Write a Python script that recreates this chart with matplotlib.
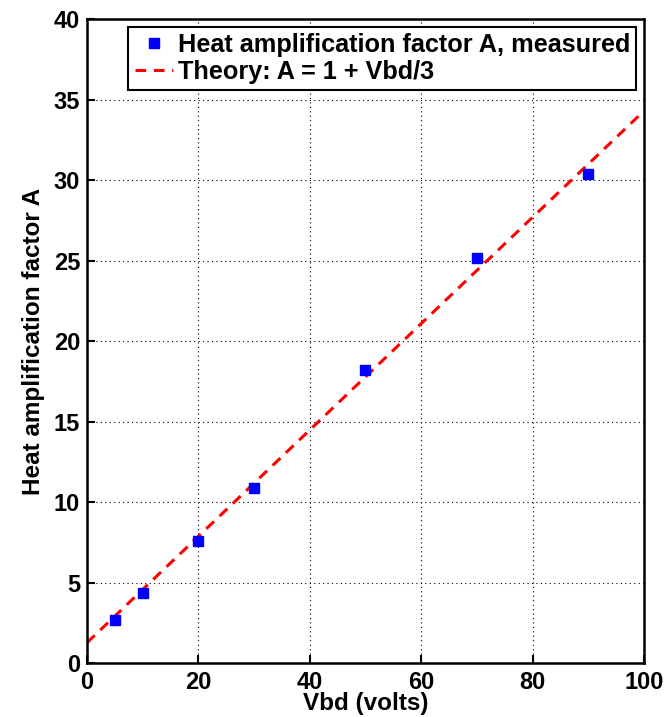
# heat amplification factor vs breakdown voltage

import matplotlib.pyplot as plt

# measured points
vbd = [5, 10, 20, 30, 50, 70, 90]
a_measured = [2.67, 4.35, 7.58, 10.89, 18.2, 25.15, 30.35]

# theory line endpoints (as drawn)
theory_v = [0, 100]
theory_a = [1.26, 34.3]

xticks = [0, 20, 40, 60, 80, 100]
yticks = [0, 5, 10, 15, 20, 25, 30, 35, 40]

plt.rcParams['font.family'] = ['Liberation Sans', 'DejaVu Sans']
plt.rcParams['font.weight'] = 'bold'

fig = plt.figure(figsize=(6.69, 7.17), dpi=100)
ax = fig.add_axes([0.130, 0.0753, 0.8326, 0.898])

ax.plot(vbd, a_measured, linestyle='none', marker='s', markersize=7.5,
        color='#0000ff', label='Heat amplification factor A, measured', zorder=3)
ax.plot(theory_v, theory_a, linestyle=(0, (3.5, 2.5)), color='#ff0000', linewidth=2.2,
        label='Theory: A = 1 + Vbd/3', zorder=2)

ax.set_xlim(0, 100)
ax.set_ylim(0, 40)
ax.set_xticks(xticks)
ax.set_yticks(yticks)
ax.tick_params(direction='in', length=6, width=1.5, labelsize=17)
ax.tick_params(axis='y', pad=5)
ax.tick_params(axis='x', pad=6)
for s in ax.spines.values():
    s.set_linewidth(1.8)

# dotted grid like matlab
ax.grid(True, linestyle=(0, (1, 3)), color='black', linewidth=0.8)

ax.set_xlabel('Vbd (volts)', fontsize=17.5, fontweight='bold', labelpad=-2)
ax.set_ylabel('Heat amplification factor A', fontsize=17.5, fontweight='bold', labelpad=6)

leg = ax.legend(loc='upper right', fontsize=18.2, frameon=True, fancybox=False,
                edgecolor='black', handlelength=1.5, handletextpad=0.2,
                borderpad=0.25, labelspacing=0.1, borderaxespad=0.3, framealpha=1)
leg.get_frame().set_linewidth(1.5)

plt.savefig('out.png', dpi=100)
